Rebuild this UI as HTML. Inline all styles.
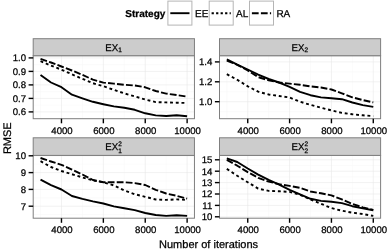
<!DOCTYPE html>
<html><head><meta charset="utf-8"><title>RMSE vs iterations</title>
<style>
html,body{margin:0;padding:0;background:#fff;}
svg{display:block;font-family:"Liberation Sans",sans-serif;}
text{text-rendering:geometricPrecision;fill:#000;stroke:#000;stroke-width:0.25px;}
</style></head><body>
<svg width="388" height="251" viewBox="0 0 388 251">
<rect width="388" height="251" fill="#fff"/>
<text transform="translate(125.30,16.60) scale(1,1.0)" font-size="10" text-anchor="start" font-weight="bold">Strategy</text>
<rect x="167.9" y="1.1" width="24" height="24" fill="#fff" stroke="#b5b5b5" stroke-width="1"/>
<line x1="170.30" x2="189.50" y1="13.2" y2="13.2" stroke="#000" stroke-width="1.9"/>
<text transform="translate(195.00,16.60) scale(1,1.0)" font-size="10" text-anchor="start">EE</text>
<rect x="209.2" y="1.1" width="24" height="24" fill="#fff" stroke="#b5b5b5" stroke-width="1"/>
<line x1="211.60" x2="230.80" y1="13.2" y2="13.2" stroke="#000" stroke-width="1.9" stroke-dasharray="2.25 2.25"/>
<text transform="translate(236.00,16.60) scale(1,1.0)" font-size="10" text-anchor="start">AL</text>
<rect x="249.5" y="1.1" width="24" height="24" fill="#fff" stroke="#b5b5b5" stroke-width="1"/>
<line x1="251.90" x2="271.10" y1="13.2" y2="13.2" stroke="#000" stroke-width="1.9" stroke-dasharray="6.75 2.25"/>
<text transform="translate(276.40,16.60) scale(1,1.0)" font-size="10" text-anchor="start">RA</text>
<rect x="33.2" y="55.7" width="161.25" height="63.00" fill="#fff"/>
<g><line x1="33.2" x2="194.45" y1="64.65" y2="64.65" stroke="#f6f6f6" stroke-width="0.5"/><line x1="33.2" x2="194.45" y1="78.15" y2="78.15" stroke="#f6f6f6" stroke-width="0.5"/><line x1="33.2" x2="194.45" y1="91.65" y2="91.65" stroke="#f6f6f6" stroke-width="0.5"/><line x1="33.2" x2="194.45" y1="105.15" y2="105.15" stroke="#f6f6f6" stroke-width="0.5"/><line x1="33.2" x2="194.45" y1="118.65" y2="118.65" stroke="#f6f6f6" stroke-width="0.5"/><line x1="40.53" x2="40.53" y1="55.7" y2="118.7" stroke="#f6f6f6" stroke-width="0.5"/><line x1="82.41" x2="82.41" y1="55.7" y2="118.7" stroke="#f6f6f6" stroke-width="0.5"/><line x1="124.30" x2="124.30" y1="55.7" y2="118.7" stroke="#f6f6f6" stroke-width="0.5"/><line x1="166.18" x2="166.18" y1="55.7" y2="118.7" stroke="#f6f6f6" stroke-width="0.5"/><line x1="33.2" x2="194.45" y1="57.90" y2="57.90" stroke="#e8e8e8" stroke-width="0.6"/><line x1="33.2" x2="194.45" y1="71.40" y2="71.40" stroke="#e8e8e8" stroke-width="0.6"/><line x1="33.2" x2="194.45" y1="84.90" y2="84.90" stroke="#e8e8e8" stroke-width="0.6"/><line x1="33.2" x2="194.45" y1="98.40" y2="98.40" stroke="#e8e8e8" stroke-width="0.6"/><line x1="33.2" x2="194.45" y1="111.90" y2="111.90" stroke="#e8e8e8" stroke-width="0.6"/><line x1="61.47" x2="61.47" y1="55.7" y2="118.7" stroke="#e8e8e8" stroke-width="0.6"/><line x1="103.35" x2="103.35" y1="55.7" y2="118.7" stroke="#e8e8e8" stroke-width="0.6"/><line x1="145.24" x2="145.24" y1="55.7" y2="118.7" stroke="#e8e8e8" stroke-width="0.6"/><line x1="187.12" x2="187.12" y1="55.7" y2="118.7" stroke="#e8e8e8" stroke-width="0.6"/></g>
<polyline points="40.53,74.90 51.00,82.50 61.47,87.20 71.94,94.70 82.41,98.30 92.88,101.80 103.35,104.20 113.83,106.40 124.30,107.80 134.77,109.80 145.24,113.30 155.71,115.40 166.18,116.00 176.65,115.30 187.12,116.20" fill="none" stroke="#000" stroke-width="1.9" stroke-linejoin="round"/>
<polyline points="40.53,61.20 51.00,65.60 61.47,69.70 71.94,74.30 82.41,78.80 92.88,83.20 103.35,86.20 113.83,89.80 124.30,93.40 134.77,96.40 145.24,99.50 155.71,102.10 166.18,102.40 176.65,102.70 187.12,103.00" fill="none" stroke="#000" stroke-width="1.9" stroke-linejoin="round" stroke-dasharray="2.9 2.8"/>
<polyline points="40.53,58.80 51.00,62.50 61.47,66.50 71.94,70.50 82.41,74.80 92.88,79.70 103.35,82.60 113.83,83.60 124.30,84.80 134.77,85.50 145.24,87.30 155.71,91.00 166.18,93.60 176.65,95.00 187.12,96.60" fill="none" stroke="#000" stroke-width="1.9" stroke-linejoin="round" stroke-dasharray="6.8 2.2"/>
<rect x="33.2" y="55.7" width="161.25" height="63.00" fill="none" stroke="#7f7f7f" stroke-width="1"/>
<rect x="33.2" y="38.7" width="161.25" height="17.00" fill="#cccccc" stroke="#7f7f7f" stroke-width="1"/>
<text transform="translate(105.32,50.70) scale(1,1.0)" font-size="9.7" text-anchor="start">EX</text>
<text transform="translate(118.22,52.20) scale(1,1.0)" font-size="6.5" text-anchor="start">1</text>
<line x1="28.6" x2="33.2" y1="57.90" y2="57.90" stroke="#000" stroke-width="1.4"/>
<text transform="translate(26.00,61.35) scale(1,1.0)" font-size="9.6" text-anchor="end">1.0</text>
<line x1="28.6" x2="33.2" y1="71.40" y2="71.40" stroke="#000" stroke-width="1.4"/>
<text transform="translate(26.00,74.85) scale(1,1.0)" font-size="9.6" text-anchor="end">0.9</text>
<line x1="28.6" x2="33.2" y1="84.90" y2="84.90" stroke="#000" stroke-width="1.4"/>
<text transform="translate(26.00,88.35) scale(1,1.0)" font-size="9.6" text-anchor="end">0.8</text>
<line x1="28.6" x2="33.2" y1="98.40" y2="98.40" stroke="#000" stroke-width="1.4"/>
<text transform="translate(26.00,101.85) scale(1,1.0)" font-size="9.6" text-anchor="end">0.7</text>
<line x1="28.6" x2="33.2" y1="111.90" y2="111.90" stroke="#000" stroke-width="1.4"/>
<text transform="translate(26.00,115.35) scale(1,1.0)" font-size="9.6" text-anchor="end">0.6</text>
<line x1="61.47" x2="61.47" y1="118.7" y2="123.3" stroke="#000" stroke-width="1.4"/>
<text transform="translate(61.97,133.70) scale(1,1.0)" font-size="9.6" text-anchor="middle">4000</text>
<line x1="103.35" x2="103.35" y1="118.7" y2="123.3" stroke="#000" stroke-width="1.4"/>
<text transform="translate(103.85,133.70) scale(1,1.0)" font-size="9.6" text-anchor="middle">6000</text>
<line x1="145.24" x2="145.24" y1="118.7" y2="123.3" stroke="#000" stroke-width="1.4"/>
<text transform="translate(145.74,133.70) scale(1,1.0)" font-size="9.6" text-anchor="middle">8000</text>
<line x1="187.12" x2="187.12" y1="118.7" y2="123.3" stroke="#000" stroke-width="1.4"/>
<text transform="translate(187.62,133.70) scale(1,1.0)" font-size="9.6" text-anchor="middle">10000</text>
<rect x="219.5" y="55.7" width="161.10" height="63.00" fill="#fff"/>
<g><line x1="219.5" x2="380.6" y1="71.85" y2="71.85" stroke="#f6f6f6" stroke-width="0.5"/><line x1="219.5" x2="380.6" y1="91.75" y2="91.75" stroke="#f6f6f6" stroke-width="0.5"/><line x1="219.5" x2="380.6" y1="111.65" y2="111.65" stroke="#f6f6f6" stroke-width="0.5"/><line x1="226.82" x2="226.82" y1="55.7" y2="118.7" stroke="#f6f6f6" stroke-width="0.5"/><line x1="268.67" x2="268.67" y1="55.7" y2="118.7" stroke="#f6f6f6" stroke-width="0.5"/><line x1="310.51" x2="310.51" y1="55.7" y2="118.7" stroke="#f6f6f6" stroke-width="0.5"/><line x1="352.36" x2="352.36" y1="55.7" y2="118.7" stroke="#f6f6f6" stroke-width="0.5"/><line x1="219.5" x2="380.6" y1="61.90" y2="61.90" stroke="#e8e8e8" stroke-width="0.6"/><line x1="219.5" x2="380.6" y1="81.80" y2="81.80" stroke="#e8e8e8" stroke-width="0.6"/><line x1="219.5" x2="380.6" y1="101.70" y2="101.70" stroke="#e8e8e8" stroke-width="0.6"/><line x1="247.74" x2="247.74" y1="55.7" y2="118.7" stroke="#e8e8e8" stroke-width="0.6"/><line x1="289.59" x2="289.59" y1="55.7" y2="118.7" stroke="#e8e8e8" stroke-width="0.6"/><line x1="331.43" x2="331.43" y1="55.7" y2="118.7" stroke="#e8e8e8" stroke-width="0.6"/><line x1="373.28" x2="373.28" y1="55.7" y2="118.7" stroke="#e8e8e8" stroke-width="0.6"/></g>
<polyline points="226.82,59.30 237.28,64.60 247.74,69.50 258.21,74.70 268.67,79.00 279.13,82.50 289.59,86.90 300.05,91.80 310.51,95.20 320.97,97.40 331.43,98.30 341.89,99.20 352.36,102.50 362.82,105.10 373.28,106.90" fill="none" stroke="#000" stroke-width="1.9" stroke-linejoin="round"/>
<polyline points="226.82,74.20 237.28,79.80 247.74,86.30 258.21,91.70 268.67,94.50 279.13,96.00 289.59,97.50 300.05,101.70 310.51,104.90 320.97,107.70 331.43,110.40 341.89,112.90 352.36,114.30 362.82,115.30 373.28,116.10" fill="none" stroke="#000" stroke-width="1.9" stroke-linejoin="round" stroke-dasharray="2.9 2.8"/>
<polyline points="226.82,60.60 237.28,64.80 247.74,70.50 258.21,77.10 268.67,80.30 279.13,82.50 289.59,83.60 300.05,84.80 310.51,86.40 320.97,87.50 331.43,89.50 341.89,93.30 352.36,97.30 362.82,100.10 373.28,102.40" fill="none" stroke="#000" stroke-width="1.9" stroke-linejoin="round" stroke-dasharray="6.8 2.2"/>
<rect x="219.5" y="55.7" width="161.10" height="63.00" fill="none" stroke="#7f7f7f" stroke-width="1"/>
<rect x="219.5" y="38.7" width="161.10" height="17.00" fill="#cccccc" stroke="#7f7f7f" stroke-width="1"/>
<text transform="translate(291.55,50.70) scale(1,1.0)" font-size="9.7" text-anchor="start">EX</text>
<text transform="translate(304.45,52.20) scale(1,1.0)" font-size="6.5" text-anchor="start">2</text>
<line x1="214.9" x2="219.5" y1="61.90" y2="61.90" stroke="#000" stroke-width="1.4"/>
<text transform="translate(212.30,65.35) scale(1,1.0)" font-size="9.6" text-anchor="end">1.4</text>
<line x1="214.9" x2="219.5" y1="81.80" y2="81.80" stroke="#000" stroke-width="1.4"/>
<text transform="translate(212.30,85.25) scale(1,1.0)" font-size="9.6" text-anchor="end">1.2</text>
<line x1="214.9" x2="219.5" y1="101.70" y2="101.70" stroke="#000" stroke-width="1.4"/>
<text transform="translate(212.30,105.15) scale(1,1.0)" font-size="9.6" text-anchor="end">1.0</text>
<line x1="247.74" x2="247.74" y1="118.7" y2="123.3" stroke="#000" stroke-width="1.4"/>
<text transform="translate(248.24,133.70) scale(1,1.0)" font-size="9.6" text-anchor="middle">4000</text>
<line x1="289.59" x2="289.59" y1="118.7" y2="123.3" stroke="#000" stroke-width="1.4"/>
<text transform="translate(290.09,133.70) scale(1,1.0)" font-size="9.6" text-anchor="middle">6000</text>
<line x1="331.43" x2="331.43" y1="118.7" y2="123.3" stroke="#000" stroke-width="1.4"/>
<text transform="translate(331.93,133.70) scale(1,1.0)" font-size="9.6" text-anchor="middle">8000</text>
<line x1="373.28" x2="373.28" y1="118.7" y2="123.3" stroke="#000" stroke-width="1.4"/>
<text transform="translate(373.78,133.70) scale(1,1.0)" font-size="9.6" text-anchor="middle">10000</text>
<rect x="33.2" y="155.4" width="161.25" height="62.80" fill="#fff"/>
<g><line x1="33.2" x2="194.45" y1="164.20" y2="164.20" stroke="#f6f6f6" stroke-width="0.5"/><line x1="33.2" x2="194.45" y1="181.00" y2="181.00" stroke="#f6f6f6" stroke-width="0.5"/><line x1="33.2" x2="194.45" y1="197.80" y2="197.80" stroke="#f6f6f6" stroke-width="0.5"/><line x1="33.2" x2="194.45" y1="214.60" y2="214.60" stroke="#f6f6f6" stroke-width="0.5"/><line x1="40.53" x2="40.53" y1="155.4" y2="218.2" stroke="#f6f6f6" stroke-width="0.5"/><line x1="82.41" x2="82.41" y1="155.4" y2="218.2" stroke="#f6f6f6" stroke-width="0.5"/><line x1="124.30" x2="124.30" y1="155.4" y2="218.2" stroke="#f6f6f6" stroke-width="0.5"/><line x1="166.18" x2="166.18" y1="155.4" y2="218.2" stroke="#f6f6f6" stroke-width="0.5"/><line x1="33.2" x2="194.45" y1="155.80" y2="155.80" stroke="#e8e8e8" stroke-width="0.6"/><line x1="33.2" x2="194.45" y1="172.60" y2="172.60" stroke="#e8e8e8" stroke-width="0.6"/><line x1="33.2" x2="194.45" y1="189.40" y2="189.40" stroke="#e8e8e8" stroke-width="0.6"/><line x1="33.2" x2="194.45" y1="206.20" y2="206.20" stroke="#e8e8e8" stroke-width="0.6"/><line x1="61.47" x2="61.47" y1="155.4" y2="218.2" stroke="#e8e8e8" stroke-width="0.6"/><line x1="103.35" x2="103.35" y1="155.4" y2="218.2" stroke="#e8e8e8" stroke-width="0.6"/><line x1="145.24" x2="145.24" y1="155.4" y2="218.2" stroke="#e8e8e8" stroke-width="0.6"/><line x1="187.12" x2="187.12" y1="155.4" y2="218.2" stroke="#e8e8e8" stroke-width="0.6"/></g>
<polyline points="40.53,179.70 51.00,185.10 61.47,189.50 71.94,196.00 82.41,198.90 92.88,201.40 103.35,203.50 113.83,206.40 124.30,208.20 134.77,210.10 145.24,213.00 155.71,215.00 166.18,215.90 176.65,215.30 187.12,215.90" fill="none" stroke="#000" stroke-width="1.9" stroke-linejoin="round"/>
<polyline points="40.53,161.20 51.00,167.00 61.47,171.00 71.94,174.20 82.41,177.40 92.88,180.40 103.35,182.30 113.83,185.40 124.30,190.40 134.77,194.20 145.24,196.80 155.71,199.50 166.18,199.90 176.65,199.40 187.12,199.90" fill="none" stroke="#000" stroke-width="1.9" stroke-linejoin="round" stroke-dasharray="2.9 2.8"/>
<polyline points="40.53,158.00 51.00,161.50 61.47,164.80 71.94,169.60 82.41,174.50 92.88,180.00 103.35,182.20 113.83,182.30 124.30,182.30 134.77,183.10 145.24,185.00 155.71,189.80 166.18,193.50 176.65,195.80 187.12,198.60" fill="none" stroke="#000" stroke-width="1.9" stroke-linejoin="round" stroke-dasharray="6.8 2.2"/>
<rect x="33.2" y="155.4" width="161.25" height="62.80" fill="none" stroke="#7f7f7f" stroke-width="1"/>
<rect x="33.2" y="137.8" width="161.25" height="17.60" fill="#cccccc" stroke="#7f7f7f" stroke-width="1"/>
<text transform="translate(105.32,150.10) scale(1,1.0)" font-size="9.7" text-anchor="start">EX</text>
<text transform="translate(118.22,153.10) scale(1,1.0)" font-size="6.5" text-anchor="start">1</text>
<text transform="translate(118.22,146.10) scale(1,1.0)" font-size="6.5" text-anchor="start">2</text>
<line x1="28.6" x2="33.2" y1="155.80" y2="155.80" stroke="#000" stroke-width="1.4"/>
<text transform="translate(26.00,159.25) scale(1,1.0)" font-size="9.6" text-anchor="end">10</text>
<line x1="28.6" x2="33.2" y1="172.60" y2="172.60" stroke="#000" stroke-width="1.4"/>
<text transform="translate(26.00,176.05) scale(1,1.0)" font-size="9.6" text-anchor="end">9</text>
<line x1="28.6" x2="33.2" y1="189.40" y2="189.40" stroke="#000" stroke-width="1.4"/>
<text transform="translate(26.00,192.85) scale(1,1.0)" font-size="9.6" text-anchor="end">8</text>
<line x1="28.6" x2="33.2" y1="206.20" y2="206.20" stroke="#000" stroke-width="1.4"/>
<text transform="translate(26.00,209.65) scale(1,1.0)" font-size="9.6" text-anchor="end">7</text>
<line x1="61.47" x2="61.47" y1="218.2" y2="222.79999999999998" stroke="#000" stroke-width="1.4"/>
<text transform="translate(61.97,233.20) scale(1,1.0)" font-size="9.6" text-anchor="middle">4000</text>
<line x1="103.35" x2="103.35" y1="218.2" y2="222.79999999999998" stroke="#000" stroke-width="1.4"/>
<text transform="translate(103.85,233.20) scale(1,1.0)" font-size="9.6" text-anchor="middle">6000</text>
<line x1="145.24" x2="145.24" y1="218.2" y2="222.79999999999998" stroke="#000" stroke-width="1.4"/>
<text transform="translate(145.74,233.20) scale(1,1.0)" font-size="9.6" text-anchor="middle">8000</text>
<line x1="187.12" x2="187.12" y1="218.2" y2="222.79999999999998" stroke="#000" stroke-width="1.4"/>
<text transform="translate(187.62,233.20) scale(1,1.0)" font-size="9.6" text-anchor="middle">10000</text>
<rect x="219.5" y="155.4" width="161.10" height="62.80" fill="#fff"/>
<g><line x1="219.5" x2="380.6" y1="165.50" y2="165.50" stroke="#f6f6f6" stroke-width="0.5"/><line x1="219.5" x2="380.6" y1="176.90" y2="176.90" stroke="#f6f6f6" stroke-width="0.5"/><line x1="219.5" x2="380.6" y1="188.30" y2="188.30" stroke="#f6f6f6" stroke-width="0.5"/><line x1="219.5" x2="380.6" y1="199.70" y2="199.70" stroke="#f6f6f6" stroke-width="0.5"/><line x1="219.5" x2="380.6" y1="211.10" y2="211.10" stroke="#f6f6f6" stroke-width="0.5"/><line x1="226.82" x2="226.82" y1="155.4" y2="218.2" stroke="#f6f6f6" stroke-width="0.5"/><line x1="268.67" x2="268.67" y1="155.4" y2="218.2" stroke="#f6f6f6" stroke-width="0.5"/><line x1="310.51" x2="310.51" y1="155.4" y2="218.2" stroke="#f6f6f6" stroke-width="0.5"/><line x1="352.36" x2="352.36" y1="155.4" y2="218.2" stroke="#f6f6f6" stroke-width="0.5"/><line x1="219.5" x2="380.6" y1="159.80" y2="159.80" stroke="#e8e8e8" stroke-width="0.6"/><line x1="219.5" x2="380.6" y1="171.20" y2="171.20" stroke="#e8e8e8" stroke-width="0.6"/><line x1="219.5" x2="380.6" y1="182.60" y2="182.60" stroke="#e8e8e8" stroke-width="0.6"/><line x1="219.5" x2="380.6" y1="194.00" y2="194.00" stroke="#e8e8e8" stroke-width="0.6"/><line x1="219.5" x2="380.6" y1="205.40" y2="205.40" stroke="#e8e8e8" stroke-width="0.6"/><line x1="219.5" x2="380.6" y1="216.80" y2="216.80" stroke="#e8e8e8" stroke-width="0.6"/><line x1="247.74" x2="247.74" y1="155.4" y2="218.2" stroke="#e8e8e8" stroke-width="0.6"/><line x1="289.59" x2="289.59" y1="155.4" y2="218.2" stroke="#e8e8e8" stroke-width="0.6"/><line x1="331.43" x2="331.43" y1="155.4" y2="218.2" stroke="#e8e8e8" stroke-width="0.6"/><line x1="373.28" x2="373.28" y1="155.4" y2="218.2" stroke="#e8e8e8" stroke-width="0.6"/></g>
<polyline points="226.82,158.30 237.28,162.00 247.74,168.50 258.21,174.60 268.67,179.80 279.13,184.60 289.59,189.80 300.05,194.40 310.51,198.80 320.97,200.90 331.43,201.80 341.89,203.10 352.36,206.20 362.82,208.40 373.28,210.20" fill="none" stroke="#000" stroke-width="1.9" stroke-linejoin="round"/>
<polyline points="226.82,168.90 237.28,175.80 247.74,182.30 258.21,188.60 268.67,190.90 279.13,191.30 289.59,191.90 300.05,194.70 310.51,199.50 320.97,203.80 331.43,208.10 341.89,210.70 352.36,212.70 362.82,214.10 373.28,215.90" fill="none" stroke="#000" stroke-width="1.9" stroke-linejoin="round" stroke-dasharray="2.9 2.8"/>
<polyline points="226.82,159.80 237.28,165.70 247.74,172.10 258.21,177.80 268.67,181.60 279.13,184.20 289.59,185.90 300.05,187.80 310.51,191.50 320.97,193.30 331.43,195.40 341.89,199.40 352.36,204.00 362.82,207.30 373.28,209.90" fill="none" stroke="#000" stroke-width="1.9" stroke-linejoin="round" stroke-dasharray="6.8 2.2"/>
<rect x="219.5" y="155.4" width="161.10" height="62.80" fill="none" stroke="#7f7f7f" stroke-width="1"/>
<rect x="219.5" y="137.8" width="161.10" height="17.60" fill="#cccccc" stroke="#7f7f7f" stroke-width="1"/>
<text transform="translate(291.55,150.10) scale(1,1.0)" font-size="9.7" text-anchor="start">EX</text>
<text transform="translate(304.45,153.10) scale(1,1.0)" font-size="6.5" text-anchor="start">2</text>
<text transform="translate(304.45,146.10) scale(1,1.0)" font-size="6.5" text-anchor="start">2</text>
<line x1="214.9" x2="219.5" y1="159.80" y2="159.80" stroke="#000" stroke-width="1.4"/>
<text transform="translate(212.30,163.25) scale(1,1.0)" font-size="9.6" text-anchor="end">15</text>
<line x1="214.9" x2="219.5" y1="171.20" y2="171.20" stroke="#000" stroke-width="1.4"/>
<text transform="translate(212.30,174.65) scale(1,1.0)" font-size="9.6" text-anchor="end">14</text>
<line x1="214.9" x2="219.5" y1="182.60" y2="182.60" stroke="#000" stroke-width="1.4"/>
<text transform="translate(212.30,186.05) scale(1,1.0)" font-size="9.6" text-anchor="end">13</text>
<line x1="214.9" x2="219.5" y1="194.00" y2="194.00" stroke="#000" stroke-width="1.4"/>
<text transform="translate(212.30,197.45) scale(1,1.0)" font-size="9.6" text-anchor="end">12</text>
<line x1="214.9" x2="219.5" y1="205.40" y2="205.40" stroke="#000" stroke-width="1.4"/>
<text transform="translate(212.30,208.85) scale(1,1.0)" font-size="9.6" text-anchor="end">11</text>
<line x1="214.9" x2="219.5" y1="216.80" y2="216.80" stroke="#000" stroke-width="1.4"/>
<text transform="translate(212.30,220.25) scale(1,1.0)" font-size="9.6" text-anchor="end">10</text>
<line x1="247.74" x2="247.74" y1="218.2" y2="222.79999999999998" stroke="#000" stroke-width="1.4"/>
<text transform="translate(248.24,233.20) scale(1,1.0)" font-size="9.6" text-anchor="middle">4000</text>
<line x1="289.59" x2="289.59" y1="218.2" y2="222.79999999999998" stroke="#000" stroke-width="1.4"/>
<text transform="translate(290.09,233.20) scale(1,1.0)" font-size="9.6" text-anchor="middle">6000</text>
<line x1="331.43" x2="331.43" y1="218.2" y2="222.79999999999998" stroke="#000" stroke-width="1.4"/>
<text transform="translate(331.93,233.20) scale(1,1.0)" font-size="9.6" text-anchor="middle">8000</text>
<line x1="373.28" x2="373.28" y1="218.2" y2="222.79999999999998" stroke="#000" stroke-width="1.4"/>
<text transform="translate(373.78,233.20) scale(1,1.0)" font-size="9.6" text-anchor="middle">10000</text>
<text transform="translate(11.0,138.2) rotate(-90)" font-size="11" text-anchor="middle">RMSE</text><text x="208.6" y="247.5" font-size="11" text-anchor="middle">Number of iterations</text>
</svg></body></html>
